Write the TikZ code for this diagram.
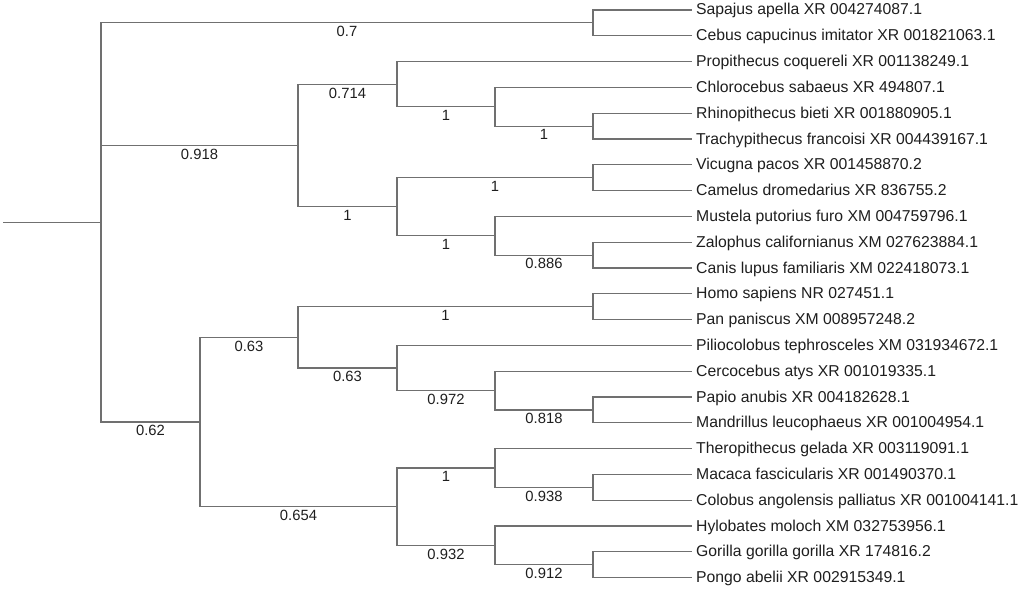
\documentclass[tikz,border=0pt]{standalone}
\usepackage{fontspec}
\setmainfont{Liberation Sans}
\definecolor{linegray}{RGB}{112,112,112}
\definecolor{textblack}{RGB}{30,30,30}
\begin{document}
\begin{tikzpicture}[x=1pt,y=-1pt,
  br/.style={draw=linegray, line width=1.1pt},
  leaf/.style={anchor=west, inner xsep=4pt, inner ysep=0pt, font=\fontsize{15.75}{18}\selectfont, text height=12pt, text depth=2pt, text=textblack},
  bs/.style={font=\fontsize{14.8}{17}\selectfont, text=textblack, anchor=north, inner sep=0pt, yshift=-3pt, pos=0.75}]
\useasboundingbox (0,0) rectangle (1021,589);
% internal nodes
\coordinate (s0) at (3,222.4);
\coordinate (R) at (101,222.4);
\coordinate (A5) at (593,22.9);
\coordinate (B2) at (298,145.4);
\coordinate (B3) at (397,84.2);
\coordinate (B4) at (495,106.75);
\coordinate (B5) at (593,126.1);
\coordinate (C3) at (397,206.7);
\coordinate (C5) at (593,177.7);
\coordinate (C4) at (495,235.75);
\coordinate (D5) at (593,255.1);
\coordinate (P1) at (200,422);
\coordinate (E2) at (298,337.35);
\coordinate (E5) at (593,306.7);
\coordinate (F3) at (397,368);
\coordinate (F4) at (495,390.6);
\coordinate (F5) at (593,410);
\coordinate (G3) at (397,506.65);
\coordinate (G4) at (495,467.95);
\coordinate (G5) at (593,487.3);
\coordinate (H4) at (495,545.35);
\coordinate (H5) at (593,564.7);
% leaves
\node[leaf] (l0) at (692,10) {Sapajus apella XR 004274087.1};
\node[leaf] (l1) at (692,35.8) {Cebus capucinus imitator XR 001821063.1};
\node[leaf] (l2) at (692,61.6) {Propithecus coquereli XR 001138249.1};
\node[leaf] (l3) at (692,87.4) {Chlorocebus sabaeus XR 494807.1};
\node[leaf] (l4) at (692,113.2) {Rhinopithecus bieti XR 001880905.1};
\node[leaf] (l5) at (692,139) {Trachypithecus francoisi XR 004439167.1};
\node[leaf] (l6) at (692,164.8) {Vicugna pacos XR 001458870.2};
\node[leaf] (l7) at (692,190.6) {Camelus dromedarius XR 836755.2};
\node[leaf] (l8) at (692,216.4) {Mustela putorius furo XM 004759796.1};
\node[leaf] (l9) at (692,242.2) {Zalophus californianus XM 027623884.1};
\node[leaf] (l10) at (692,268) {Canis lupus familiaris XM 022418073.1};
\node[leaf] (l11) at (692,293.8) {Homo sapiens NR 027451.1};
\node[leaf] (l12) at (692,319.6) {Pan paniscus XM 008957248.2};
\node[leaf] (l13) at (692,345.4) {Piliocolobus tephrosceles XM 031934672.1};
\node[leaf] (l14) at (692,371.2) {Cercocebus atys XR 001019335.1};
\node[leaf] (l15) at (692,397) {Papio anubis XR 004182628.1};
\node[leaf] (l16) at (692,422.8) {Mandrillus leucophaeus XR 001004954.1};
\node[leaf] (l17) at (692,448.6) {Theropithecus gelada XR 003119091.1};
\node[leaf] (l18) at (692,474.4) {Macaca fascicularis XR 001490370.1};
\node[leaf] (l19) at (692,500.2) {Colobus angolensis palliatus XR 001004141.1};
\node[leaf] (l20) at (692,526) {Hylobates moloch XM 032753956.1};
\node[leaf] (l21) at (692,551.8) {Gorilla gorilla gorilla XR 174816.2};
\node[leaf] (l22) at (692,577.6) {Pongo abelii XR 002915349.1};
% branches
\draw[br] (s0) -- (R);
\draw[br] (R) |- node[bs] (t1) {0.7} (A5);
\draw[br] (R) |- node[bs] (t2) {0.918} (B2);
\draw[br] (R) |- node[bs] (t3) {0.62} (P1);
\draw[br] (A5) |- (l0.west);
\draw[br] (A5) |- (l1.west);
\draw[br] (B2) |- node[bs] (t4) {0.714} (B3);
\draw[br] (B2) |- node[bs] (t5) {1} (C3);
\draw[br] (B3) |- (l2.west);
\draw[br] (B3) |- node[bs] (t6) {1} (B4);
\draw[br] (B4) |- (l3.west);
\draw[br] (B4) |- node[bs] (t7) {1} (B5);
\draw[br] (B5) |- (l4.west);
\draw[br] (B5) |- (l5.west);
\draw[br] (C3) |- node[bs] (t8) {1} (C5);
\draw[br] (C3) |- node[bs] (t9) {1} (C4);
\draw[br] (C5) |- (l6.west);
\draw[br] (C5) |- (l7.west);
\draw[br] (C4) |- (l8.west);
\draw[br] (C4) |- node[bs] (t10) {0.886} (D5);
\draw[br] (D5) |- (l9.west);
\draw[br] (D5) |- (l10.west);
\draw[br] (P1) |- node[bs] (t11) {0.63} (E2);
\draw[br] (P1) |- node[bs] (t12) {0.654} (G3);
\draw[br] (E2) |- node[bs] (t13) {1} (E5);
\draw[br] (E2) |- node[bs] (t14) {0.63} (F3);
\draw[br] (E5) |- (l11.west);
\draw[br] (E5) |- (l12.west);
\draw[br] (F3) |- (l13.west);
\draw[br] (F3) |- node[bs] (t15) {0.972} (F4);
\draw[br] (F4) |- (l14.west);
\draw[br] (F4) |- node[bs] (t16) {0.818} (F5);
\draw[br] (F5) |- (l15.west);
\draw[br] (F5) |- (l16.west);
\draw[br] (G3) |- node[bs] (t17) {1} (G4);
\draw[br] (G3) |- node[bs] (t18) {0.932} (H4);
\draw[br] (G4) |- (l17.west);
\draw[br] (G4) |- node[bs] (t19) {0.938} (G5);
\draw[br] (G5) |- (l18.west);
\draw[br] (G5) |- (l19.west);
\draw[br] (H4) |- (l20.west);
\draw[br] (H4) |- node[bs] (t20) {0.912} (H5);
\draw[br] (H5) |- (l21.west);
\draw[br] (H5) |- (l22.west);
\end{tikzpicture}
\end{document}
